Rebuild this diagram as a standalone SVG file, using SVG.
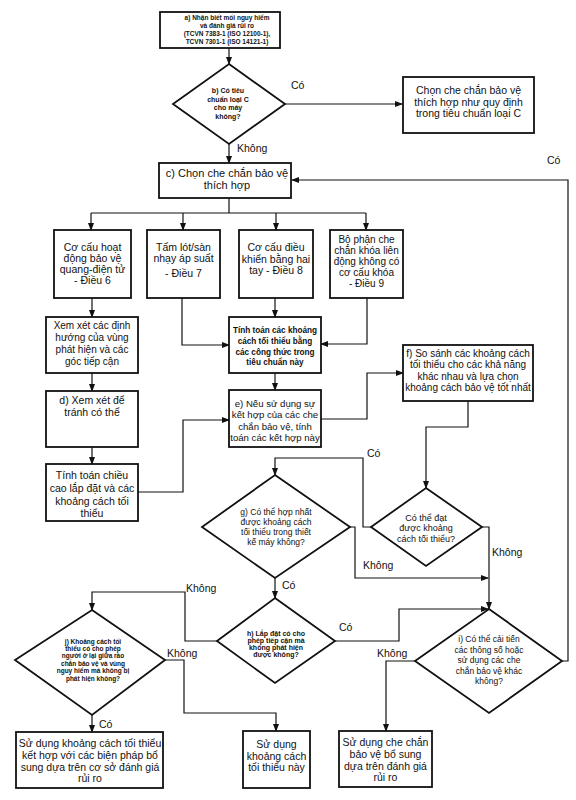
<svg xmlns="http://www.w3.org/2000/svg" width="576" height="800" viewBox="0 0 576 800">
<defs>
<marker id="ah" markerWidth="8" markerHeight="6" refX="7" refY="3" orient="auto" markerUnits="userSpaceOnUse">
<path d="M0,0 L8,3 L0,6 Z" fill="#111"/>
</marker>
<style>
.n{fill:#fff;stroke:#111;stroke-width:1.8}
.c{fill:none;stroke:#111;stroke-width:1.2;marker-end:url(#ah)}
.l{fill:none;stroke:#111;stroke-width:1.2}
text{font-family:"Liberation Sans",Arial,sans-serif;fill:#111;text-anchor:middle}
.t11{font-size:11px}
.t105{font-size:10.5px}
.t10{font-size:10px}
.t95{font-size:9.6px}
.t9{font-size:9px}
.t85{font-size:8.5px}
.tb9{font-size:8.2px;font-weight:bold}
.tb7{font-size:7px;font-weight:bold}
.tb65{font-size:6.5px;font-weight:bold}
.lab{font-size:10.5px;text-anchor:start}
</style>
</defs>
<rect width="576" height="800" fill="#fff"/>

<g id="connectors">
<path class="c" d="M229,48 V64"/>
<path class="c" d="M285,104 H402"/>
<path class="c" d="M229,144 V163"/>
<path class="l" d="M229,198 V213 M91,213 H366"/>
<path class="c" d="M91,213 V230"/>
<path class="c" d="M183,213 V230"/>
<path class="c" d="M276,213 V230"/>
<path class="c" d="M366,213 V230"/>
<path class="c" d="M92,298 V317"/>
<path class="c" d="M92,373 V391"/>
<path class="c" d="M92,447 V464"/>
<path class="c" d="M138,492 H183 V420 H229"/>
<path class="c" d="M182,298 V345 H229"/>
<path class="c" d="M275,298 V317"/>
<path class="c" d="M367,298 V344 H321"/>
<path class="c" d="M275,373 V390"/>
<path class="c" d="M321,419 H367 V373 H403"/>
<path class="c" d="M468,401 V427 H426 V488"/>
<path class="c" d="M371,527 H363 V458 H275 V475"/>
<path class="c" d="M482,527 H489 V609"/>
<path class="c" d="M350,527 H355 V578 H488"/>
<path class="c" d="M275,578 V598"/>
<path class="c" d="M335,641 H399 V609 H488"/>
<path class="c" d="M217,641 H185 V592 H92 V610"/>
<path class="c" d="M165,660 H184 V713 H276 V731"/>
<path class="c" d="M92,715 V732"/>
<path class="c" d="M415,661 H386 V731"/>
<path class="c" d="M562,661 H568 V180 H292"/>
<text class="lab" x="291" y="89">Có</text>
<text class="lab" x="237" y="152">Không</text>
<text class="lab" x="547" y="164">Có</text>
<text class="lab" x="367" y="457">Có</text>
<text class="lab" x="492" y="556">Không</text>
<text class="lab" x="363" y="569">Không</text>
<text class="lab" x="282" y="589">Có</text>
<text class="lab" x="186" y="592">Không</text>
<text class="lab" x="339" y="631">Có</text>
<text class="lab" x="167" y="657">Không</text>
<text class="lab" x="377" y="657">Không</text>
<text class="lab" x="99" y="728">Có</text>
</g>

<g id="a">
<rect class="n" x="160" y="12" width="120" height="36"/>
<text class="tb65" x="227" y="20.3">a) Nhận biết mối nguy hiểm</text>
<text class="tb65" x="227" y="28.3">và đánh giá rủi ro</text>
<text class="tb65" x="227" y="36.3">(TCVN 7383-1 (ISO 12100-1),</text>
<text class="tb65" x="227" y="44.3">TCVN 7301-1 (ISO 14121-1)</text>
</g>

<g id="b">
<polygon class="n" points="229,64 285,104 229,144 173,104"/>
<text class="tb7" x="228" y="92.5">b) Có tiêu</text>
<text class="tb7" x="228" y="101.5">chuẩn loại C</text>
<text class="tb7" x="228" y="110">cho máy</text>
<text class="tb7" x="228" y="118.5">không?</text>
</g>

<g id="boxC">
<rect class="n" x="403" y="77" width="131" height="56"/>
<text class="t105" x="468.5" y="94">Chọn che chắn bảo vệ</text>
<text class="t105" x="468.5" y="105.5">thích hợp như quy định</text>
<text class="t105" x="468.5" y="117">trong tiêu chuẩn loại C</text>
</g>

<g id="c">
<rect class="n" x="159" y="163" width="132" height="35"/>
<text class="t11" x="227" y="177">c) Chọn che chắn bảo vệ</text>
<text class="t11" x="227" y="189">thích hợp</text>
</g>

<g id="box6">
<rect class="n" x="54" y="230" width="77" height="68"/>
<text class="t105" x="92.5" y="251">Cơ cấu hoạt</text>
<text class="t105" x="92.5" y="262">động bảo vệ</text>
<text class="t105" x="92.5" y="273">quang-điện tử</text>
<text class="t105" x="92.5" y="284">- Điều 6</text>
</g>

<g id="box7">
<rect class="n" x="147" y="230" width="73" height="68"/>
<text class="t105" x="183.5" y="251">Tấm lót/sàn</text>
<text class="t105" x="183.5" y="262">nhạy áp suất</text>
<text class="t105" x="183.5" y="277">- Điều 7</text>
</g>

<g id="box8">
<rect class="n" x="239" y="230" width="74" height="68"/>
<text class="t105" x="276" y="251">Cơ cấu điều</text>
<text class="t105" x="276" y="263">khiển bằng hai</text>
<text class="t105" x="276" y="274">tay - Điều 8</text>
</g>

<g id="box9">
<rect class="n" x="330" y="230" width="73" height="68"/>
<text class="t10" x="366.5" y="243">Bộ phận che</text>
<text class="t10" x="366.5" y="254">chắn khóa liên</text>
<text class="t10" x="366.5" y="265">động không có</text>
<text class="t10" x="366.5" y="276">cơ cấu khóa</text>
<text class="t10" x="366.5" y="287">- Điều 9</text>
</g>

<g id="xem">
<rect class="n" x="46" y="317" width="92" height="56"/>
<text class="t10" x="92" y="329">Xem xét các định</text>
<text class="t10" x="92" y="341">hướng của vùng</text>
<text class="t10" x="92" y="353">phát hiện và các</text>
<text class="t10" x="92" y="365">góc tiếp cận</text>
</g>

<g id="d">
<rect class="n" x="46" y="391" width="92" height="56"/>
<text class="t105" x="92" y="404">d) Xem xét để</text>
<text class="t105" x="92" y="416">tránh có thể</text>
</g>

<g id="tinhchieucao">
<rect class="n" x="46" y="464" width="92" height="57"/>
<text class="t105" x="92" y="479">Tính toán chiều</text>
<text class="t105" x="92" y="492">cao lắp đặt và các</text>
<text class="t105" x="92" y="505">khoảng cách tối</text>
<text class="t105" x="92" y="517">thiểu</text>
</g>

<g id="tinhkhoangcach">
<rect class="n" x="229" y="317" width="92" height="56"/>
<text class="tb9" x="275" y="333">Tính toán các khoảng</text>
<text class="tb9" x="275" y="344">cách tối thiểu bằng</text>
<text class="tb9" x="275" y="354.5">các công thức trong</text>
<text class="tb9" x="275" y="365">tiêu chuẩn này</text>
</g>

<g id="e">
<rect class="n" x="229" y="390" width="92" height="57"/>
<text class="t95" x="275" y="406.5">e) Nếu sử dụng sự</text>
<text class="t95" x="275" y="418">kết hợp của các che</text>
<text class="t95" x="275" y="429.5">chắn bảo vệ, tính</text>
<text class="t95" x="275" y="441">toán các kết hợp này</text>
</g>

<g id="f">
<rect class="n" x="403" y="345" width="130" height="56"/>
<text class="t10" x="468" y="356.5">f) So sánh các khoảng cách</text>
<text class="t10" x="468" y="368">tối thiểu cho các khả năng</text>
<text class="t10" x="468" y="379.5">khác nhau và lựa chọn</text>
<text class="t10" x="468" y="391">khoảng cách bảo vệ tốt nhất</text>
</g>

<g id="k">
<polygon class="n" points="426,488 482,527 426,566 371,527"/>
<text class="t9" x="426" y="520.5">Có thể đạt</text>
<text class="t9" x="426" y="530.5">được khoảng</text>
<text class="t9" x="426" y="542">cách tối thiểu?</text>
</g>

<g id="g">
<polygon class="n" points="275,475 350,527 275,578 202,527"/>
<text class="t85" x="276" y="515">g) Có thể hợp nhất</text>
<text class="t85" x="276" y="525">được khoảng cách</text>
<text class="t85" x="276" y="535">tối thiểu trong thiết</text>
<text class="t85" x="276" y="545">kế máy không?</text>
</g>

<g id="h">
<polygon class="n" points="275,598 335,641 275,683 217,641"/>
<text class="tb7" x="276" y="635.5">h) Lắp đặt có cho</text>
<text class="tb7" x="276" y="642.5">phép tiếp cận mà</text>
<text class="tb7" x="276" y="649.5">không phát hiện</text>
<text class="tb7" x="276" y="656.5">được không?</text>
</g>

<g id="i">
<polygon class="n" points="489,609 562,661 489,713 415,661"/>
<text class="t85" x="489" y="642">i) Có thể cải tiến</text>
<text class="t85" x="489" y="652.5">các thông số hoặc</text>
<text class="t85" x="489" y="663">sử dụng các che</text>
<text class="t85" x="489" y="673.5">chắn bảo vệ khác</text>
<text class="t85" x="489" y="684">không?</text>
</g>

<g id="j">
<polygon class="n" points="92,610 165,660 92,715 15,660"/>
<text class="tb65" x="93" y="643.5">j) Khoảng cách tối</text>
<text class="tb65" x="93" y="650.5">thiểu có cho phép</text>
<text class="tb65" x="93" y="658">người ở lại giữa rào</text>
<text class="tb65" x="93" y="665.5">chắn bảo  vệ và vùng</text>
<text class="tb65" x="93" y="673">nguy hiểm mà không bị</text>
<text class="tb65" x="93" y="680.5">phát hiện không?</text>
</g>

<g id="kethop">
<rect class="n" x="16" y="732" width="147" height="56"/>
<text class="t105" x="90" y="747">Sử dụng khoảng cách tối thiểu</text>
<text class="t105" x="90" y="759">kết hợp với các biện pháp bổ</text>
<text class="t105" x="90" y="770.5">sung dựa trên cơ sở đánh giá</text>
<text class="t105" x="90" y="782">rủi ro</text>
</g>

<g id="suDungKC">
<rect class="n" x="243" y="731" width="67" height="57"/>
<text class="t105" x="276.5" y="748">Sử dụng</text>
<text class="t105" x="276.5" y="760">khoảng cách</text>
<text class="t105" x="276.5" y="771">tối thiểu này</text>
</g>

<g id="boSung">
<rect class="n" x="339" y="731" width="93" height="56"/>
<text class="t105" x="385.5" y="746">Sử dụng che chắn</text>
<text class="t105" x="385.5" y="758">bảo vệ bổ sung</text>
<text class="t105" x="385.5" y="770">dựa trên đánh giá</text>
<text class="t105" x="385.5" y="781">rủi ro</text>
</g>
</svg>
